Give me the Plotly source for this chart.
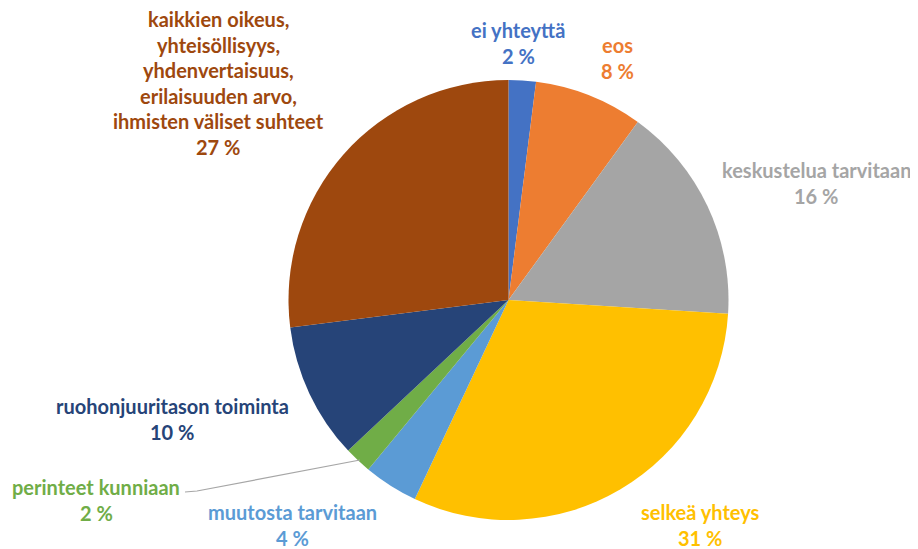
import plotly.graph_objects as go

categories = [
    "ei yhteyttä",
    "eos",
    "keskustelua tarvitaan",
    "selkeä yhteys",
    "muutosta tarvitaan",
    "perinteet kunniaan",
    "ruohonjuuritason toiminta",
    "kaikkien oikeus, yhteisöllisyys, yhdenvertaisuus, erilaisuuden arvo, ihmisten väliset suhteet",
]
percentages = [2, 8, 16, 31, 4, 2, 10, 27]
label_lines = [
    ["ei yhteyttä"],
    ["eos"],
    ["keskustelua tarvitaan"],
    ["selkeä yhteys"],
    ["muutosta tarvitaan"],
    ["perinteet kunniaan"],
    ["ruohonjuuritason toiminta"],
    ["kaikkien oikeus,", "yhteisöllisyys,", "yhdenvertaisuus,", "erilaisuuden arvo,", "ihmisten väliset suhteet"],
]

colors = ["#4472C4", "#ED7D31", "#A5A5A5", "#FFC000", "#5B9BD5", "#70AD47", "#264478", "#9E480E"]

OFF = 8  # page body margin
PW, PH = 918, 549
W, H = PW - OFF, PH - OFF


def px(x):
    return (x - OFF) / W


def py(y):
    return 1 - (y - OFF) / H


cx, cy, r = 508.5, 300, 220

fig = go.Figure(go.Pie(
    labels=categories,
    values=percentages,
    sort=False,
    direction="clockwise",
    rotation=0,
    marker=dict(colors=colors, line=dict(width=0)),
    textinfo="none",
    hoverinfo="label+percent",
    domain=dict(x=[px(cx - r), px(cx + r)], y=[py(cy + r), py(cy - r)]),
    showlegend=False,
))

# label anchor centres (page pixels): x, y of first line
label_pos = [
    (518, 30), (617, 45), (816, 170), (700, 512),
    (292, 512), (96, 487), (172, 406), (218, 19),
]
line_gap = 25.6
font_family = "Lato, 'Open Sans', sans-serif"
annotations = []
for lines, pct, col, (lx, ly) in zip(label_lines, percentages, colors, label_pos):
    all_lines = lines + [f"{pct} %"]
    for i, t in enumerate(all_lines):
        annotations.append(dict(
            x=px(lx), y=py(ly + i * line_gap), xref="paper", yref="paper",
            text=f"<b>{t}</b>", showarrow=False, xanchor="center", yanchor="middle",
            borderpad=0,
            font=dict(family=font_family, size=20, color=col),
        ))

# leader line for "perinteet kunniaan"
shapes = [
    dict(type="path", xref="paper", yref="paper",
         path=f"M {px(185)} {py(492)} L {px(197)} {py(491)} L {px(360)} {py(460)}",
         line=dict(color="#A6A6A6", width=1.2)),
]

fig.update_layout(
    width=W, height=H,
    margin=dict(l=0, r=0, t=0, b=0),
    paper_bgcolor="white", plot_bgcolor="white",
    annotations=annotations, shapes=shapes,
)

fig.write_html("out.html")
